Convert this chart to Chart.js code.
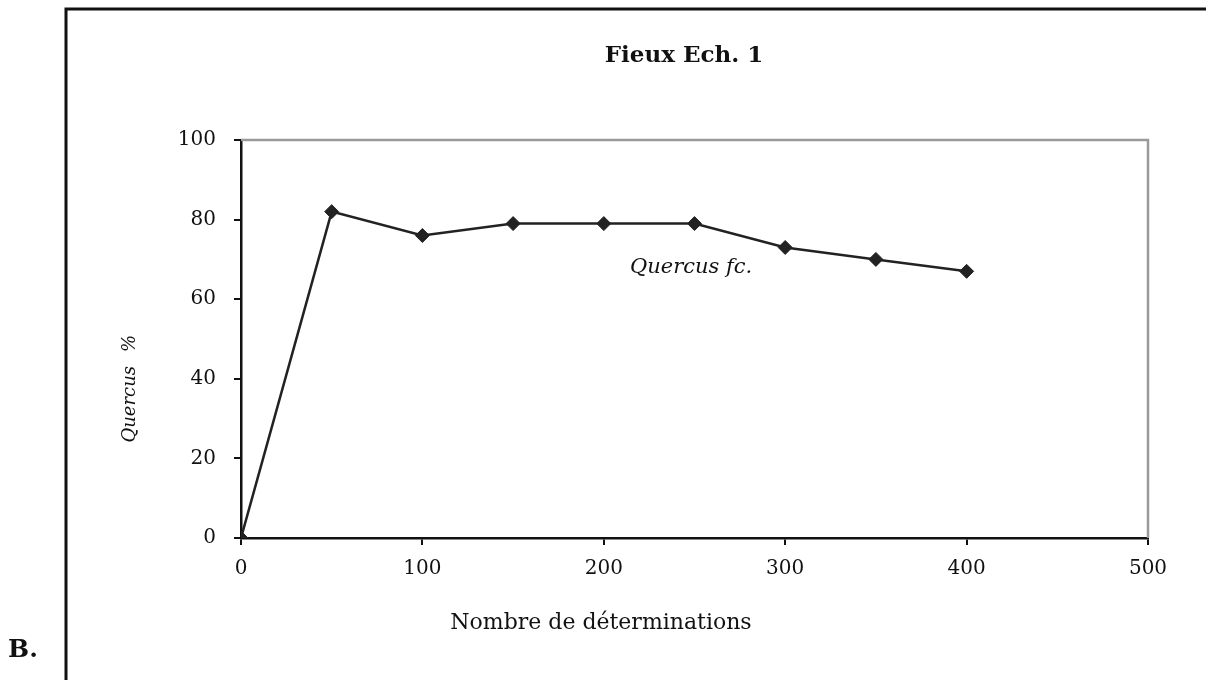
<!DOCTYPE html>
<html>
<head>
<meta charset="utf-8">
<script src="https://cdn.jsdelivr.net/npm/chart.js@4.4.0/dist/chart.umd.min.js"></script>
<style>
  html, body { margin: 0; padding: 0; background: #fff; }
  #wrap { position: relative; width: 1207px; height: 680px; }
</style>
</head>
<body>
<div id="wrap"><canvas id="chart" width="1207" height="680"></canvas></div>
<script>
// données
const determinations = [0, 50, 100, 150, 200, 250, 300, 350, 400];
const quercusPct = [0, 82, 76, 79, 79, 79, 73, 70, 67];
const yTicks = [0, 20, 40, 60, 80, 100];
const xTicks = [0, 100, 200, 300, 400, 500];

const SERIF = '"DejaVu Serif", "Liberation Serif", serif';

// cadre extérieur, bordure grise du graphique et textes
const decorPlugin = {
    id: 'decor',
    beforeDatasetsDraw(chart) {
        const { ctx, chartArea: a } = chart;
        ctx.save();
        ctx.strokeStyle = '#9a9a9a';
        ctx.lineWidth = 2.5;
        ctx.beginPath();
        ctx.moveTo(a.left, a.top);
        ctx.lineTo(a.right, a.top);
        ctx.lineTo(a.right, a.bottom);
        ctx.stroke();
        ctx.restore();
    },
    afterDraw(chart) {
        const { ctx } = chart;
        ctx.save();
        // cadre
        ctx.strokeStyle = '#111';
        ctx.lineWidth = 3;
        ctx.beginPath();
        ctx.moveTo(66, 690);
        ctx.lineTo(66, 9);
        ctx.lineTo(1206, 9);
        ctx.stroke();

        ctx.fillStyle = '#111';
        ctx.textBaseline = 'middle';
        ctx.textAlign = 'center';
        ctx.font = 'bold 23px ' + SERIF;
        ctx.fillText('Fieux Ech. 1', 684, 56);

        ctx.font = '22px ' + SERIF;
        ctx.fillText('Nombre de déterminations', 601, 623);

        ctx.textAlign = 'left';
        ctx.font = 'bold 25px ' + SERIF;
        ctx.fillText('B.', 8, 650);

        ctx.font = 'italic 21px ' + SERIF;
        ctx.fillText('Quercus fc.', 630, 268);

        // titre de l'axe Y
        ctx.translate(130, 0);
        ctx.rotate(-Math.PI / 2);
        ctx.font = 'italic 18px ' + SERIF;
        ctx.textAlign = 'right';
        ctx.fillText('Quercus', -366, 0);
        ctx.textAlign = 'left';
        ctx.fillText('%', -352, 0);
        ctx.restore();
    }
};

new Chart(document.getElementById('chart'), {
    type: 'line',
    data: {
        labels: determinations,
        datasets: [{
            label: 'Quercus fc.',
            data: determinations.map((x, i) => ({ x: x, y: quercusPct[i] })),
            borderColor: '#222',
            backgroundColor: '#222',
            borderWidth: 2.5,
            pointStyle: 'rectRot',
            pointRadius: 7,
            pointBorderWidth: 1,
            tension: 0
        }]
    },
    options: {
        responsive: false,
        animation: false,
        layout: { padding: { left: 0, top: 140, right: 59, bottom: 0 } },
        plugins: {
            legend: { display: false },
            tooltip: { enabled: false }
        },
        scales: {
            x: {
                type: 'linear',
                min: 0,
                max: 500,
                afterBuildTicks: (s) => { s.ticks = xTicks.map(v => ({ value: v })); },
                afterFit: (s) => { s.height = 142; },
                border: { display: true, color: '#111', width: 2.5 },
                grid: { drawOnChartArea: false, drawTicks: true, tickLength: 7, color: '#111', lineWidth: 2 },
                ticks: { color: '#111', padding: 12, font: { family: SERIF, size: 20 }, maxRotation: 0 }
            },
            y: {
                min: 0,
                max: 100,
                afterBuildTicks: (s) => { s.ticks = yTicks.map(v => ({ value: v })); },
                afterFit: (s) => { s.width = 241; },
                border: { display: true, color: '#111', width: 2.5 },
                grid: { drawOnChartArea: false, drawTicks: true, tickLength: 7, color: '#111', lineWidth: 2 },
                ticks: { color: '#111', padding: 18, font: { family: SERIF, size: 20 } }
            }
        }
    },
    plugins: [decorPlugin]
});
</script>
</body>
</html>
